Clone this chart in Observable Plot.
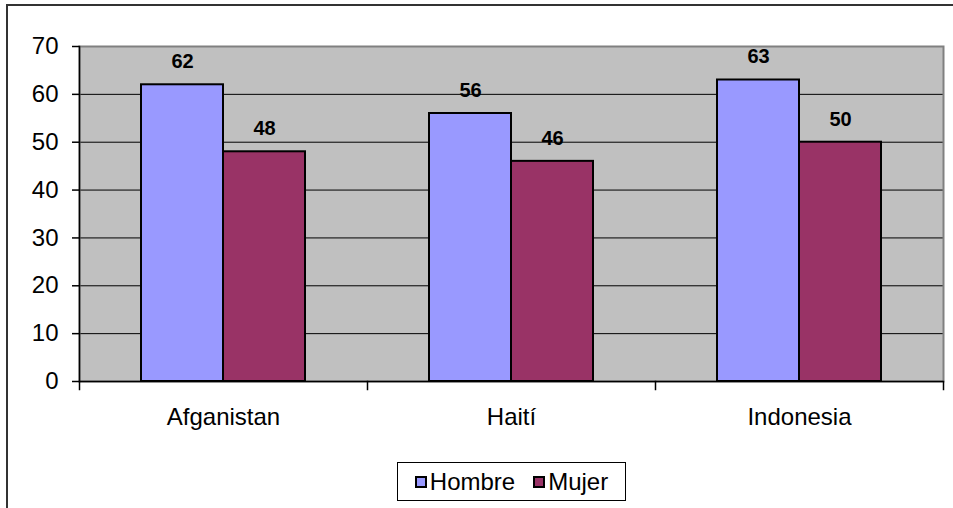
<!DOCTYPE html>
<html>
<head>
<meta charset="utf-8">
<script src="https://cdn.jsdelivr.net/npm/d3@7"></script>
<script src="https://cdn.jsdelivr.net/npm/@observablehq/plot@0.6"></script>
<style>
  html, body { margin: 0; padding: 0; background: #fff; }
  body { width: 953px; height: 508px; position: relative; overflow: hidden; font-family: "Liberation Sans", Arial, sans-serif; }
  #outer { position: absolute; left: 6px; top: 4px; width: 1000px; height: 600px; border: 2px solid #333; box-sizing: border-box; }
  #chart { position: absolute; left: 0; top: 0; }
  #legend { position: absolute; left: 397px; top: 462px; width: 229px; height: 39px; border: 1px solid #000; box-sizing: border-box; background: #fff;
            display: flex; align-items: center; justify-content: center; gap: 18px; font-size: 24px; color: #000; }
  .item { display: flex; align-items: center; }
  .sw { width: 12px; height: 12px; border: 2px solid #000; box-sizing: border-box; margin-right: 3px; }
</style>
</head>
<body>
<div id="outer"></div>
<div id="chart"></div>
<div id="legend"></div>
<script>
const countries = ["Afganistan", "Haití", "Indonesia"];
const series = ["Hombre", "Mujer"];
const hombre = [62, 56, 63];
const mujer = [48, 46, 50];
const yTicks = [0, 10, 20, 30, 40, 50, 60, 70];
const colors = ["#9999FF", "#993366"];

const data = countries.flatMap((c, i) => [
  {country: c, series: series[0], value: hombre[i]},
  {country: c, series: series[1], value: mujer[i]}
]);

const W = 953, H = 440, mt = 46, mb = 59, ml = 78, mr = 10;
const plotH = H - mt - mb;

const chart = Plot.plot({
  width: W, height: H,
  marginTop: mt, marginBottom: mb, marginLeft: ml, marginRight: mr,
  style: {fontFamily: "'Liberation Sans', Arial, sans-serif", background: "transparent", color: "#000"},
  fx: {domain: countries, padding: 0, label: null},
  x: {domain: series, paddingInner: 0, paddingOuter: 0.75, axis: null},
  y: {domain: [0, 70]},
  color: {domain: series, range: colors},
  marks: [
    Plot.frame({facet: "super", fill: "#C0C0C0"}),
    Plot.gridY(yTicks.filter(t => t > 0 && t < 70), {stroke: "#000", strokeOpacity: 1, strokeWidth: 1}),
    Plot.frame({facet: "super", stroke: "#808080", strokeWidth: 2}),
    Plot.frame({facet: "super", anchor: "left", stroke: "#000", strokeWidth: 1.5}),
    Plot.ruleY([0], {stroke: "#000", strokeWidth: 1.5}),
    Plot.frame({anchor: "left", stroke: "#000", strokeWidth: 1.5, insetTop: plotH, insetBottom: -8}),
    Plot.frame({facet: "super", anchor: "right", stroke: "#000", strokeWidth: 1.5, insetTop: plotH, insetBottom: -8}),
    Plot.barY(data, {fx: "country", x: "series", y: "value", fill: "series", stroke: "#000", strokeWidth: 2}),
    Plot.text(data, {fx: "country", x: "series", y: "value", text: d => String(d.value), dy: -23, fontWeight: "bold", fontSize: 20, fill: "#000"}),
    Plot.axisY(yTicks, {tickSize: 7, tickPadding: 14, fontSize: 24, stroke: "#000", strokeWidth: 1.5, label: null}),
    Plot.axisFx({anchor: "bottom", tickSize: 0, tickPadding: 26, fontSize: 24, label: null})
  ]
});
document.getElementById("chart").appendChild(chart);

const legend = document.getElementById("legend");
series.forEach((s, i) => {
  const item = document.createElement("div");
  item.className = "item";
  const sw = document.createElement("div");
  sw.className = "sw";
  sw.style.background = colors[i];
  const label = document.createElement("span");
  label.textContent = s;
  item.appendChild(sw);
  item.appendChild(label);
  legend.appendChild(item);
});
</script>
</body>
</html>
